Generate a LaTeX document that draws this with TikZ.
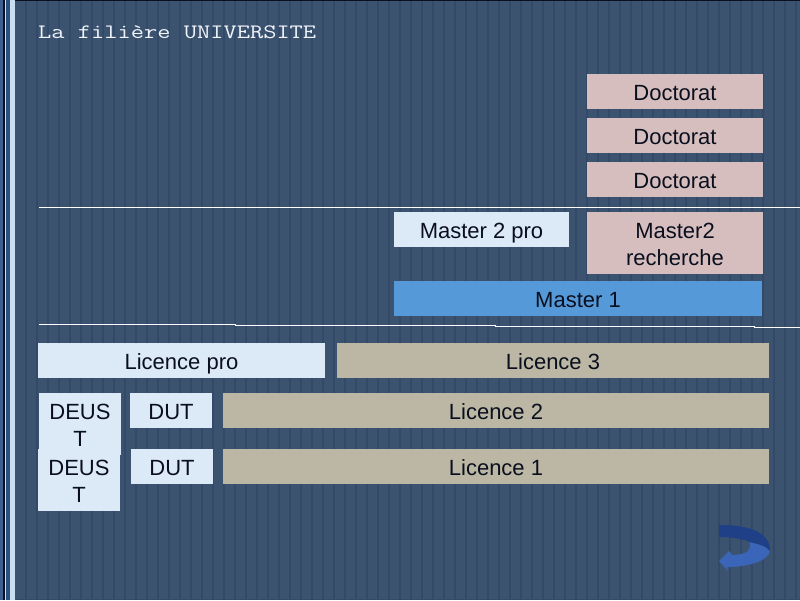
\documentclass[tikz,border=0pt]{standalone}
\usepackage{graphicx}
\usepackage{fontspec}
\setmainfont{Liberation Sans}
\definecolor{bgblue}{HTML}{3C5370}
\definecolor{stripe}{HTML}{33496A}
\definecolor{paleblue}{HTML}{DCE9F6}
\definecolor{rose}{HTML}{D6BEBE}
\definecolor{sand}{HTML}{BBB7A4}
\definecolor{midblue}{HTML}{5599D8}
\definecolor{inktext}{HTML}{0A0F1E}
\definecolor{arrowdark}{HTML}{1F3F86}
\definecolor{arrowlight}{HTML}{3B65B8}
\definecolor{bandmid}{HTML}{3D5F90}
\definecolor{bandblack}{HTML}{0A1020}
\definecolor{bandblue}{HTML}{2B4F80}
\definecolor{bandpale}{HTML}{C9DEF1}
\definecolor{titlewhite}{HTML}{F0F4FA}
\tikzset{
  x=1pt,y=-1pt,
  cell/.style={inner sep=0pt,outer sep=0pt,align=center,font=\fontsize{22}{27}\selectfont,text=inktext,text height=18.6pt,text depth=0pt},
  twolines/.style={text height=44pt,text depth=0pt},
  raised/.style={text height=17.6pt},
  pro/.style={cell,fill=paleblue},
  recherche/.style={cell,fill=rose},
  general/.style={cell,fill=sand},
  masterone/.style={cell,fill=midblue},
  rule/.style={draw=white,line width=1pt},
  bgline/.style={draw=stripe,line width=1.3pt},
}
\begin{document}
\begin{tikzpicture}
\useasboundingbox (0,0) rectangle (800,600);
\fill[bgblue] (0,0) rectangle (800,600);
\foreach \i in {0,...,70} {\draw[bgline] ({26+11*\i},0) -- ({26+11*\i},600);}
\fill[bandblack] (0,0) rectangle (800,1);
\fill[stripe] (0,598.5) rectangle (800,600);
% left band
\fill[bandmid] (0,0) rectangle (3,600);
\fill[bandblack] (3,0) rectangle (4.5,600);
\fill[bandpale] (4.5,0) rectangle (6,600);
\fill[bandblue] (6,0) rectangle (9.5,600);
\fill[bandpale] (9.5,0) rectangle (15,600);
% title
\node[anchor=base west,inner sep=0pt,text=titlewhite,font=\ttfamily\fontsize{20.5}{26}\selectfont] (title) at (38,38) {\scalebox{1.254}[1]{La filière UNIVERSITE}};
% rules
\coordinate (ra) at (39,207.5);
\coordinate (rb) at (800,207.5);
\draw[rule] (ra) -- (rb);
\coordinate (sa) at (39,324);
\coordinate (sb) at (235,324);
\coordinate (sc) at (235,325);
\coordinate (sd) at (495,325);
\coordinate (se) at (495,326);
\coordinate (sf) at (754,326);
\coordinate (sg) at (754,327);
\coordinate (sh) at (800,327);
\draw[rule] (sa) -- (sb) -- (sc) -- (sd) -- (se) -- (sf) -- (sg) -- (sh);
% boxes
\node[recherche,minimum width=176pt,minimum height=35pt] (doc3) at (675,91.5) {Doctorat};
\node[recherche,minimum width=176pt,minimum height=35pt] (doc2) at (675,135.5) {Doctorat};
\node[recherche,minimum width=176pt,minimum height=35pt] (doc1) at (675,179.5) {Doctorat};
\node[pro,raised,minimum width=175pt,minimum height=35pt] (m2pro) at (481.5,229.5) {Master 2 pro};
\node[recherche,twolines,minimum width=176pt,minimum height=62pt] (m2rech) at (675,243) {Master2\\recherche};
\node[masterone,raised,minimum width=368pt,minimum height=35pt] (m1) at (578,298.5) {Master 1};
\node[pro,minimum width=287pt,minimum height=35pt] (lpro) at (181.5,360.5) {Licence pro};
\node[general,minimum width=432pt,minimum height=35pt] (l3) at (553,360.5) {Licence 3};
\node[pro,twolines,minimum width=82pt,minimum height=62pt] (deust2) at (80,424) {DEUS\\T};
\node[pro,twolines,minimum width=82pt,minimum height=62pt] (deust1) at (79,480) {DEUS\\T};
\node[pro,minimum width=82pt,minimum height=35pt] (dut2) at (171,410.5) {DUT};
\node[pro,minimum width=82pt,minimum height=35pt] (dut1) at (172,466.5) {DUT};
\node[general,minimum width=546pt,minimum height=35pt] (l2) at (496,410.5) {Licence 2};
\node[general,minimum width=546pt,minimum height=35pt] (l1) at (496,466.5) {Licence 1};
% return arrow
\fill[arrowlight] (750,542) .. controls (750,546) and (750,549) .. (748,551)
  .. controls (744,554) and (738,555) .. (732,555)
  -- (729,551) -- (719,561) -- (728,571) -- (727,567)
  .. controls (745,567) and (768,562) .. (770,551)
  .. controls (767,546) and (758,544) .. (750,542) -- cycle;
\fill[arrowdark] (719,525) .. controls (745,525) and (770,530) .. (770,551)
  .. controls (767,546) and (758,544) .. (750,542)
  .. controls (740,538) and (728,537) .. (719,537) -- cycle;
\end{tikzpicture}
\end{document}
